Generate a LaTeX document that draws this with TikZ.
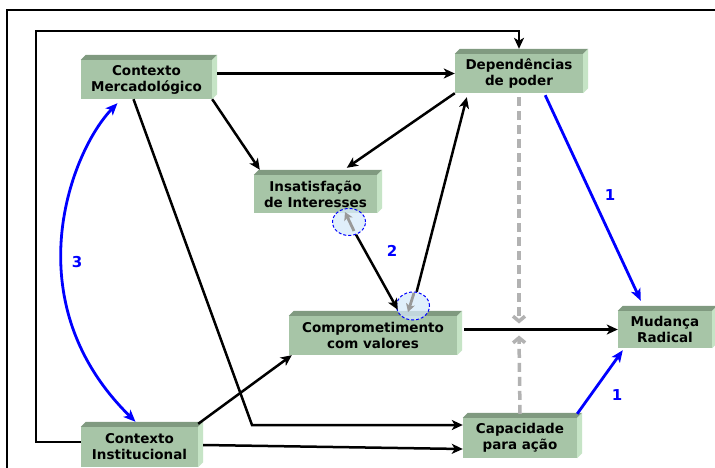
\documentclass[tikz,border=0pt]{standalone}
\usepackage{fontspec}
\setmainfont{DejaVu Sans}
\usetikzlibrary{arrows.meta,shapes.geometric}
\definecolor{boxfront}{RGB}{167,197,167}
\definecolor{boxtop}{RGB}{128,154,128}
\definecolor{boxside}{RGB}{198,228,198}
\definecolor{dashgrey}{RGB}{178,178,178}
\definecolor{ringfill}{RGB}{214,234,250}
\newcommand\cubefaces[1]{%
  \fill[boxtop] (#1.north west) -- ++(5,-5) -- ([shift={(5,-5)}]#1.north east) -- (#1.north east) -- cycle;
  \fill[boxside] (#1.north east) -- ++(5,-5) -- ([shift={(5,-5)}]#1.south east) -- (#1.south east) -- cycle;
}
\begin{document}
\begin{tikzpicture}[x=1pt,y=-1pt,
  cube/.style={fill=boxfront, inner sep=0pt, align=center,
    font=\fontsize{13.5}{16}\selectfont\bfseries},
  arr/.style={line width=2.5pt, -{Stealth[length=11pt,width=10pt,inset=3pt]}},
  bluearr/.style={line width=2.8pt, blue, -{Stealth[length=12pt,width=10pt,inset=3pt]}},
  greydash/.style={line width=3.5pt, dashgrey, dash pattern=on 9pt off 5pt,
    -{Straight Barb[length=5pt,width=12pt]}},
  ring/.style={ellipse, draw=blue, densely dashed, line width=1pt,
    fill=ringfill, fill opacity=0.75, inner sep=0pt},
  ringarrow/.style={line width=2.8pt, gray!80, -{Stealth[length=8pt,width=9pt,inset=2pt]}},
  numlabel/.style={blue, font=\fontsize{15}{15}\selectfont\bfseries}]
\useasboundingbox (0,0) rectangle (715,468);
\fill[white] (0,0) rectangle (715,468);

% frame
\draw[line width=2pt] (7,468) -- (7,10) -- (715,10);

% boxes
\node[cube, minimum width=131pt, minimum height=39pt] (cm) at (146.5,79.5) {Contexto\\Mercadológico};
\node[cube, minimum width=128pt, minimum height=39pt] (dp) at (519,73.5) {Dependências\\de poder};
\node[cube, minimum width=123pt, minimum height=38pt] (ii) at (315.5,194) {Insatisfação\\de Interesses};
\node[cube, minimum width=168pt, minimum height=39pt] (cv) at (373,335.5) {Comprometimento\\com valores};
\node[cube, minimum width=94pt, minimum height=37pt] (mr) at (665,329.5) {Mudança\\Radical};
\node[cube, minimum width=114pt, minimum height=40pt] (ca) at (520,438) {Capacidade\\para ação};
\node[cube, minimum width=117pt, minimum height=40pt] (ci) at (139.5,447) {Contexto\\Institucional};
\foreach \n in {cm,dp,ii,cv,mr,ca,ci} {\cubefaces{\n}}

% route helpers
\coordinate (bend) at (252,425);
\coordinate (loop) at (36,31);
\coordinate (cross) at (dp.south |- mr.west);

% black connectors
\draw[arr] ([shift={(5,0)}]cm.east |- dp.west) -- (dp.west);
\draw[arr] (cm.south east) -- ([shift={(6,-5)}]ii.north west);
\draw[arr] (dp.south west) -- ([shift={(93,-7)}]ii.north west);
\draw[arr] ([shift={(7,0)}]cv.east |- mr.west) -- (mr.west);
\draw[arr] ([shift={(-13,0)}]cm.south) -- (bend) -- (bend -| ca.west);
\draw[arr] ([shift={(5,-2)}]ci.east) -- ([shift={(0,11)}]ca.west);
\draw[arr] ([shift={(0,-3)}]ci.north east) -- ([shift={(3,0)}]cv.south west);
\draw[arr] ([shift={(0,-5)}]ci.west) -| (loop) -| ([shift={(0,-5)}]dp.north);

% feedback loop between interests and values
\node[ring, minimum width=33pt, minimum height=27pt] (r1) at (349,222) {};
\node[ring, minimum width=33pt, minimum height=28pt] (r2) at (413,306) {};
\draw[arr] (r1) -- ([shift={(109,-6)}]cv.north west);
\draw[arr] (r2) -- ([shift={(12,4)}]dp.south west);
\draw[ringarrow] ([shift={(5,9)}]r1.center) -- ([shift={(-4,-10)}]r1.center);
\draw[ringarrow] ([shift={(1,-13)}]r2.center) -- ([shift={(-5,6)}]r2.center);

% dashed influences
\draw[greydash] ([shift={(0,4)}]dp.south) -- ([shift={(0,-6)}]cross);
\draw[greydash] ([shift={(0,-4)}]ca.north) -- ([shift={(0,6)}]cross);

% blue paths
\draw[bluearr] ([shift={(-38,2)}]dp.south east) -- ([shift={(23,-10)}]mr.north west);
\draw[bluearr] ([shift={(0,-4)}]ca.north east) -- ([shift={(5,2)}]mr.south west);
\draw[line width=2.8pt, blue, {Stealth[length=12pt,width=10pt,inset=3pt]}-{Stealth[length=12pt,width=10pt,inset=3pt]}]
  ([shift={(-29,4)}]cm.south) .. controls (72,150) and (12,300) .. ([shift={(-4,-5)}]ci.north);

% labels
\node[numlabel] (n3) at (77,262) {3};
\node[numlabel] (n2) at (392,251) {2};
\node[numlabel] (n1a) at (610,195) {1};
\node[numlabel] (n1b) at (617,395) {1};
\end{tikzpicture}
\end{document}
